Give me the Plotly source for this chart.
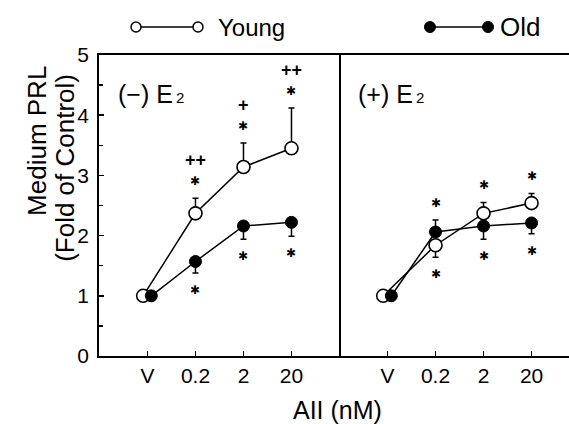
import plotly.graph_objects as go

# ---------------- data ----------------
doses = ["V", "0.2", "2", "20"]

# (-) E2 panel
young_minus = [1.00, 2.37, 3.14, 3.45]
young_minus_up = [0.0, 0.25, 0.40, 0.67]
young_minus_dn = [0.0, 0.0, 0.0, 0.0]
old_minus = [1.00, 1.57, 2.16, 2.22]
old_minus_up = [0.0, 0.0, 0.0, 0.0]
old_minus_dn = [0.0, 0.19, 0.22, 0.23]

# (+) E2 panel
young_plus = [1.00, 1.84, 2.37, 2.54]
young_plus_up = [0.0, 0.0, 0.18, 0.16]
young_plus_dn = [0.0, 0.20, 0.0, 0.0]
old_plus = [1.00, 2.06, 2.16, 2.21]
old_plus_up = [0.0, 0.20, 0.0, 0.0]
old_plus_dn = [0.0, 0.0, 0.22, 0.18]

# significance marks (above highest bar end / below lowest bar end)
minus_star_above = ["", "\u2731", "\u2731", "\u2731"]
minus_plus_above = ["", "++", "+", "++"]
minus_star_below = ["", "\u2731", "\u2731", "\u2731"]
plus_star_above = ["", "\u2731", "\u2731", "\u2731"]
plus_star_below = ["", "\u2731", "\u2731", "\u2731"]

FONT = "Liberation Sans, Arial, sans-serif"
STAR_FONT = "DejaVu Sans, sans-serif"
V_SHIFT_YOUNG = -0.09
V_SHIFT_OLD = 0.08

def xpos(shift):
    return [i + (shift if i == 0 else 0) for i in range(len(doses))]

fig = go.Figure()

def add_panel(xa, ya, young, yup, ydn, old, oup, odn):
    fig.add_trace(go.Scatter(
        x=xpos(V_SHIFT_YOUNG), y=young, mode="lines+markers", xaxis=xa, yaxis=ya,
        line=dict(color="black", width=1.5),
        marker=dict(symbol="circle", size=13, color="white",
                    line=dict(color="black", width=1.6)),
        error_y=dict(type="data", symmetric=False, array=yup, arrayminus=ydn,
                     width=3, thickness=1.5, color="black"),
        showlegend=False, hoverinfo="skip"))
    fig.add_trace(go.Scatter(
        x=xpos(V_SHIFT_OLD), y=old, mode="lines+markers", xaxis=xa, yaxis=ya,
        line=dict(color="black", width=1.5),
        marker=dict(symbol="circle", size=12, color="black",
                    line=dict(color="black", width=1)),
        error_y=dict(type="data", symmetric=False, array=oup, arrayminus=odn,
                     width=3, thickness=1.5, color="black"),
        showlegend=False, hoverinfo="skip"))

add_panel("x", "y", young_minus, young_minus_up, young_minus_dn,
          old_minus, old_minus_up, old_minus_dn)
add_panel("x2", "y2", young_plus, young_plus_up, young_plus_dn,
          old_plus, old_plus_up, old_plus_dn)

annotations = []

def sig_marks(xref, yref, young, yup, ydn, old, oup, odn, above, below, plus_above=None):
    for i in range(len(doses)):
        top = max(young[i] + yup[i], old[i] + oup[i])
        bot = min(young[i] - ydn[i], old[i] - odn[i])
        if above[i]:
            annotations.append(dict(x=i, y=top, xref=xref, yref=yref, text=above[i],
                                    showarrow=False, yshift=17, yanchor="middle",
                                    font=dict(family=STAR_FONT, size=12, color="black")))
        if plus_above and plus_above[i]:
            annotations.append(dict(x=i, y=top, xref=xref, yref=yref,
                                    text="<b>" + plus_above[i] + "</b>",
                                    showarrow=False, yshift=38, yanchor="middle",
                                    font=dict(family=FONT, size=18, color="black")))
        if below[i]:
            annotations.append(dict(x=i, y=bot, xref=xref, yref=yref, text=below[i],
                                    showarrow=False, yshift=-17, yanchor="middle",
                                    font=dict(family=STAR_FONT, size=12, color="black")))

sig_marks("x", "y", young_minus, young_minus_up, young_minus_dn,
          old_minus, old_minus_up, old_minus_dn,
          minus_star_above, minus_star_below, minus_plus_above)
sig_marks("x2", "y2", young_plus, young_plus_up, young_plus_dn,
          old_plus, old_plus_up, old_plus_dn,
          plus_star_above, plus_star_below)

# panel labels
annotations.append(dict(x=0.036, y=0.87, xref="paper", yref="paper", xanchor="left",
                        yanchor="middle", showarrow=False,
                        text="(\u2212) E<span style='font-size:15px'>\u20092</span>",
                        font=dict(family=FONT, size=25, color="black")))
annotations.append(dict(x=0.546, y=0.87, xref="paper", yref="paper", xanchor="left",
                        yanchor="middle", showarrow=False,
                        text="(+) E<span style='font-size:15px'>\u20092</span>",
                        font=dict(family=FONT, size=25, color="black")))

# axis titles
annotations.append(dict(x=-0.131, y=0.716, xref="paper", yref="paper", textangle=-90,
                        xanchor="center", yanchor="middle",
                        showarrow=False, text="Medium PRL",
                        font=dict(family=FONT, size=26, color="black")))
annotations.append(dict(x=-0.073, y=0.624, xref="paper", yref="paper", textangle=-90,
                        xanchor="center", yanchor="middle",
                        showarrow=False, text="(Fold of Control)",
                        font=dict(family=FONT, size=26, color="black")))
annotations.append(dict(x=0.508, y=-0.18, xref="paper", yref="paper",
                        xanchor="center", yanchor="middle",
                        showarrow=False, text="AII (nM)",
                        font=dict(family=FONT, size=25, color="black")))

# legend (drawn)
W, T, PW, PH = 99, 55, 470, 301
def px(xp): return (xp - W) / PW
def py(yp): return (T + PH - yp) / PH

shapes = []
shapes.append(dict(type="line", xref="paper", yref="paper", x0=px(136), x1=px(198),
                   y0=py(27), y1=py(27), line=dict(color="black", width=1.5)))
shapes.append(dict(type="line", xref="paper", yref="paper", x0=px(430), x1=px(488),
                   y0=py(27), y1=py(27), line=dict(color="black", width=1.5)))
for cx in (136, 198):
    shapes.append(dict(type="circle", xref="paper", yref="paper", xsizemode="pixel",
                       ysizemode="pixel", xanchor=px(cx), yanchor=py(27),
                       x0=-5, x1=5, y0=-5, y1=5, fillcolor="white",
                       line=dict(color="black", width=1.5)))
for cx in (430, 488):
    shapes.append(dict(type="circle", xref="paper", yref="paper", xsizemode="pixel",
                       ysizemode="pixel", xanchor=px(cx), yanchor=py(27),
                       x0=-5.5, x1=5.5, y0=-5.5, y1=5.5, fillcolor="black",
                       line=dict(color="black", width=1)))
annotations.append(dict(x=px(216), y=py(27), xref="paper", yref="paper", xanchor="left",
                        yanchor="middle", showarrow=False, text="Young",
                        font=dict(family=FONT, size=24, color="black")))
annotations.append(dict(x=px(498), y=py(27), xref="paper", yref="paper", xanchor="left",
                        yanchor="middle", showarrow=False, text="Old",
                        font=dict(family=FONT, size=26, color="black")))

split = 240 / 470
common_x = dict(tickmode="array", tickvals=list(range(len(doses))), ticktext=doses,
                ticks="inside", ticklen=5, tickwidth=1.5, tickcolor="black",
                showline=True, linecolor="black", linewidth=1.8, mirror=True,
                showgrid=False, zeroline=False,
                tickfont=dict(family=FONT, size=21, color="black"),
                ticklabelstandoff=0)

fig.update_layout(
    width=569, height=424,
    margin=dict(l=W, r=0, t=T, b=424 - T - PH),
    paper_bgcolor="white", plot_bgcolor="white",
    xaxis=dict(domain=[0, split], range=[-1.01, 3.99], anchor="y", **common_x),
    xaxis2=dict(domain=[split, 1], range=[-1.01, 3.78], anchor="y2", **common_x),
    yaxis=dict(range=[0, 5], tickvals=[0, 1, 2, 3, 4, 5], ticks="inside", ticklen=5,
               tickwidth=1.5, tickcolor="black",
               minor=dict(dtick=0.5, ticks="inside", ticklen=4, tickcolor="black"),
               showline=True, linecolor="black", linewidth=1.8, mirror=True,
               showgrid=False, zeroline=False, ticklabelstandoff=4,
               tickfont=dict(family=FONT, size=21, color="black")),
    yaxis2=dict(range=[0, 5], anchor="x2", showline=False, showticklabels=False,
                ticks="", showgrid=False, zeroline=False),
    annotations=annotations, shapes=shapes,
)

fig.write_html("out.html",
               config={"displayModeBar": False, "staticPlot": True},
               post_script="document.body.style.margin='0';"
                           "document.body.style.overflow='hidden';")
